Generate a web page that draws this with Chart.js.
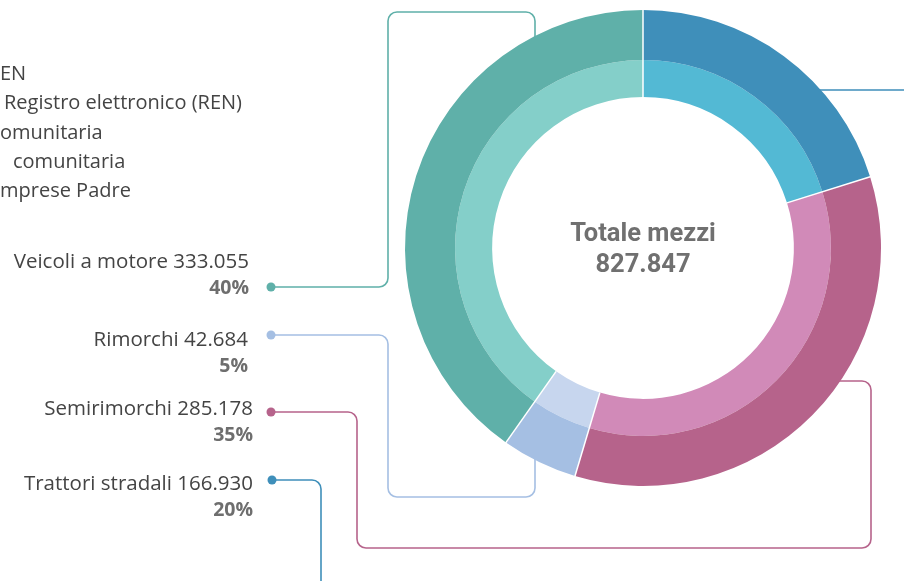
<!DOCTYPE html>
<html>
<head>
<meta charset="utf-8">
<script src="https://cdn.jsdelivr.net/npm/chart.js@4/dist/chart.umd.min.js"></script>
<style>
  html, body { margin: 0; padding: 0; background: #fff; }
  body { width: 904px; height: 581px; position: relative; overflow: hidden; font-family: 'Open Sans', sans-serif; }
  #donut { position: absolute; left: 0; top: 0; }
  .legend-line { position: absolute; font-size: 20px; line-height: 29px; color: #444; white-space: nowrap; }
  .lbl { position: absolute; text-align: right; font-size: 20.5px; color: #444; white-space: nowrap; line-height: 26px; }
  .lbl b { color: #6e6e6e; font-weight: 700; font-size: 19.5px; }
  #center { position: absolute; left: 543px; width: 200px; top: 217px; text-align: center; font-family: Roboto, sans-serif; font-size: 25.5px; font-weight: 700; color: #707070; line-height: 31px; }
</style>
</head>
<body>
<canvas id="donut" width="904" height="581"></canvas>

<div class="legend-line" style="left:0px;top:58px">EN</div>
<div class="legend-line" style="left:4px;top:87px">Registro elettronico (REN)</div>
<div class="legend-line" style="left:0px;top:117px">omunitaria</div>
<div class="legend-line" style="left:13px;top:146px">comunitaria</div>
<div class="legend-line" style="left:0px;top:175px">mprese Padre</div>

<div id="labels"></div>
<div id="center"></div>

<script>
const categories = ['Veicoli a motore', 'Rimorchi', 'Semirimorchi', 'Trattori stradali'];
const counts = [333055, 42684, 285178, 166930];
const shares = [40, 5, 35, 20];
const total = 827847;

// drawing order around the ring (clockwise from 12 o'clock)
const ringOrder = ['Trattori stradali', 'Semirimorchi', 'Rimorchi', 'Veicoli a motore'];

const outerColors = { 'Trattori stradali': '#3f8fba', 'Semirimorchi': '#b6638b', 'Rimorchi': '#a5bfe3', 'Veicoli a motore': '#5fb0a9' };
const innerColors = { 'Trattori stradali': '#53b9d4', 'Semirimorchi': '#d18ab8', 'Rimorchi': '#c7d6ee', 'Veicoli a motore': '#84cfc9' };

const ringValues = ringOrder.map(c => counts[categories.indexOf(c)]);

const fmt = n => n.toLocaleString('de-DE');

// label blocks on the left (top / right edge)
const labelPos = {
  'Veicoli a motore':  [247, 249],
  'Rimorchi':          [325, 248],
  'Semirimorchi':      [394, 253],
  'Trattori stradali': [469, 253],
};
document.getElementById('labels').innerHTML = categories.map((c, i) =>
  `<div class="lbl" style="top:${labelPos[c][0]}px;right:${904 - labelPos[c][1]}px">${c} ${fmt(counts[i])}<br><b>${shares[i]}%</b></div>`
).join('');
document.getElementById('center').innerHTML = `Totale mezzi<br>${fmt(total)}`;

// connector routes: start at the dot, then bends; the last leg runs into the outer ring
const routes = {
  'Veicoli a motore':  { pts: [[271, 287], [388, 287], [388, 12], [535, 12]], end: 'down' },
  'Rimorchi':          { pts: [[271, 335], [388, 335], [388, 497], [535, 497]], end: 'up' },
  'Semirimorchi':      { pts: [[271, 412], [357, 412], [357, 548], [871, 548], [871, 381]], end: 'left' },
  'Trattori stradali': { pts: [[272, 480], [321, 480], [321, 640], [960, 640], [960, 90]], end: 'left' },
};

const connectors = {
  id: 'connectors',
  beforeDatasetsDraw(chart) {
    const ctx = chart.ctx;
    const arc = chart.getDatasetMeta(0).data[0];
    const { x: cx, y: cy, outerRadius, innerRadius } = arc;
    const rm = (outerRadius + innerRadius) / 2;
    ctx.save();
    ctx.lineWidth = 1.6;
    Object.entries(routes).forEach(([cat, r]) => {
      const pts = r.pts.slice();
      const last = pts[pts.length - 1];
      if (r.end === 'down') pts.push([last[0], cy - Math.sqrt(rm * rm - (last[0] - cx) ** 2)]);
      if (r.end === 'up') pts.push([last[0], cy + Math.sqrt(rm * rm - (last[0] - cx) ** 2)]);
      if (r.end === 'left') pts.push([cx + Math.sqrt(rm * rm - (last[1] - cy) ** 2), last[1]]);
      ctx.strokeStyle = outerColors[cat];
      ctx.beginPath();
      ctx.moveTo(pts[0][0], pts[0][1]);
      for (let i = 1; i < pts.length - 1; i++) {
        ctx.arcTo(pts[i][0], pts[i][1], pts[i + 1][0], pts[i + 1][1], 9);
      }
      ctx.lineTo(pts[pts.length - 1][0], pts[pts.length - 1][1]);
      ctx.stroke();
      ctx.fillStyle = outerColors[cat];
      ctx.beginPath();
      ctx.arc(pts[0][0], pts[0][1], 4.5, 0, Math.PI * 2);
      ctx.fill();
    });
    ctx.restore();
  },
  // thin white radial separators between slices, across both rings
  afterDatasetsDraw(chart) {
    const ctx = chart.ctx;
    const outer = chart.getDatasetMeta(0).data;
    const inner = chart.getDatasetMeta(1).data;
    ctx.save();
    ctx.strokeStyle = '#fff';
    ctx.lineWidth = 1.5;
    outer.forEach((a, i) => {
      const r0 = inner[i].innerRadius, r1 = a.outerRadius + 1;
      const t = a.startAngle;
      ctx.beginPath();
      ctx.moveTo(a.x + r0 * Math.cos(t), a.y + r0 * Math.sin(t));
      ctx.lineTo(a.x + r1 * Math.cos(t), a.y + r1 * Math.sin(t));
      ctx.stroke();
    });
    ctx.restore();
  }
};

new Chart(document.getElementById('donut'), {
  type: 'doughnut',
  data: {
    labels: ringOrder,
    datasets: [
      {
        data: ringValues,
        backgroundColor: ringOrder.map(c => outerColors[c]),
        borderWidth: 0,
        weight: 50,
      },
      {
        data: ringValues,
        backgroundColor: ringOrder.map(c => innerColors[c]),
        borderWidth: 0,
        weight: 37,
      },
    ],
  },
  options: {
    responsive: false,
    animation: false,
    cutout: '63.4%',
    layout: { padding: { left: 405, right: 23, top: 10, bottom: 95 } },
    plugins: {
      legend: { display: false },
      tooltip: { enabled: false },
    },
  },
  plugins: [connectors],
});
</script>
</body>
</html>
